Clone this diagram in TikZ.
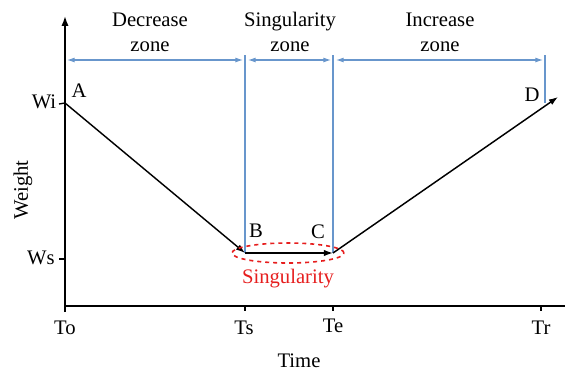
\documentclass[tikz,border=0pt]{standalone}
\usepackage{fontspec}
\setmainfont{Liberation Serif}
\usetikzlibrary{arrows.meta,positioning,shapes.geometric}
\definecolor{WtBlue}{RGB}{104,150,204}
\definecolor{WtRed}{RGB}{230,30,30}
\tikzset{
  wt/axis/.style={line width=1.3pt, draw=black},
  wt/curve/.style={-{Latex[length=2.4mm,width=1.7mm]}, line width=1.1pt, draw=black},
  wt/zone/.style={{Latex[length=2mm,width=1.3mm]}-{Latex[length=2mm,width=1.3mm]}, line width=0.8pt, draw=WtBlue},
  wt/guide/.style={line width=0.8pt, draw=WtBlue},
  wt/label/.style={font=\fontsize{15.5}{18.5}\selectfont, inner sep=0pt, align=center, text=black},
  wt/tick/.style={line width=1pt, draw=black}
}

\begin{document}
\begin{tikzpicture}[x=0.75pt,y=-0.75pt]
  \useasboundingbox (0,0) rectangle (565,372);
  % axes
  \coordinate (orig) at (65,306);
  \coordinate (ybot) at (65,312);
  \coordinate (ytop) at (65,16);
  \coordinate (xend) at (565,306);
  \draw[wt/axis,-{Latex[length=2.6mm,width=1.9mm]}] (ybot) -- (ytop);
  \draw[wt/axis] (orig) -- (xend);
  % points of the curve
  \coordinate (ptA) at (65,103);
  \coordinate (ptB) at (245,253);
  \coordinate (ptC) at (333,253);
  \coordinate (ptD) at (558,97);
  % time ticks
  \foreach \t/\x in {ts/245,te/333,tr/541}{
    \draw[wt/tick] (\x,306) -- (\x,311);
  }
  \node[wt/label] (lblTo) at (65,328) {To};
  \node[wt/label] (lblTs) at (244,328) {Ts};
  \node[wt/label] (lblTe) at (333,326) {Te};
  \node[wt/label] (lblTr) at (541,328) {Tr};
  \node[wt/label] (lblTime) at (299,361) {Time};
  % weight ticks
  \draw[wt/tick] (59,104) -- (ptA);
  \draw[wt/tick] (59,259) -- (65,259);
  \node[wt/label] (lblWi) at (44,102) {Wi};
  \node[wt/label] (lblWs) at (41,258) {Ws};
  \node[wt/label,rotate=90] (lblWeight) at (23,190) {Weight};
  % guide lines
  \coordinate (gS) at (245,55);
  \coordinate (gE) at (333,55);
  \coordinate (gR) at (545,55);
  \coordinate (gRb) at (545,103);
  \draw[wt/guide] (gS) -- (ptB);
  \draw[wt/guide] (gE) -- (ptC);
  \draw[wt/guide] (gR) -- (gRb);
  % zones
  \coordinate (z1a) at (67,60);
  \coordinate (z1b) at (243,60);
  \coordinate (z2a) at (248,60);
  \coordinate (z2b) at (331,60);
  \coordinate (z3a) at (336,60);
  \coordinate (z3b) at (543,60);
  \draw[wt/zone] (z1a) -- (z1b);
  \draw[wt/zone] (z2a) -- (z2b);
  \draw[wt/zone] (z3a) -- (z3b);
  \node[wt/label] (decZone) at (150,32) {Decrease\\zone};
  \node[wt/label] (sinZone) at (290,32) {Singularity\\zone};
  \node[wt/label] (incZone) at (440,32) {Increase\\zone};
  % weight curve
  \draw[wt/curve] (ptA) -- (ptB);
  \draw[wt/curve] (ptB) -- (ptC);
  \draw[wt/curve] (ptC) -- (ptD);
  \node[wt/label] (lblA) at (79,91) {A};
  \node[wt/label] (lblB) at (256,231) {B};
  \node[wt/label] (lblC) at (318,232) {C};
  \node[wt/label] (lblD) at (532,95) {D};
  % singularity
  \node[ellipse, draw=WtRed, dashed, line width=1.2pt, minimum width=84pt, minimum height=15pt] (sing) at (288,253) {};
  \node[wt/label, text=WtRed] (lblSing) at (288,279) {Singularity};
\end{tikzpicture}
\end{document}
